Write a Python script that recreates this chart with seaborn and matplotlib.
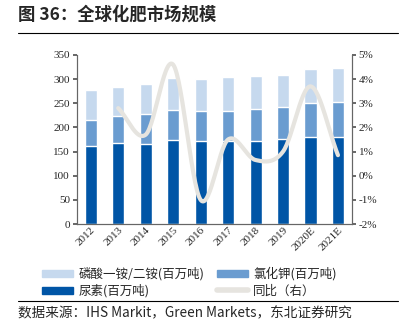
import numpy as np
import pandas as pd
import matplotlib
matplotlib.use("Agg")
import matplotlib.pyplot as plt
import seaborn as sns
from matplotlib.lines import Line2D
from matplotlib.patches import Patch

years = ["2012", "2013", "2014", "2015", "2016", "2017", "2018", "2019", "2020E", "2021E"]
urea = [161, 168, 165, 174, 172, 172, 171, 176, 181, 181]
potash = [54, 56, 63, 63, 62, 63, 68, 66, 69, 72]
phosphate = [62, 60, 62, 66, 66, 69, 67, 67, 71, 70]
yoy_years = ["2013", "2014", "2015", "2016", "2017", "2018", "2019", "2020E", "2021E"]
yoy = [2.8, 1.7, 4.6, -1.0, 1.5, 0.65, 1.0, 3.7, 0.85]

sns.set_theme(style="white")
plt.rcParams['font.family'] = ['Liberation Serif', 'Noto Sans CJK SC', 'DejaVu Sans']

c_light = "#C6D9EE"
c_mid = "#6A9CD0"
c_dark = "#0055A6"
c_line = "#E6E4DF"

df = pd.DataFrame({"year": years, "urea": urea, "potash": potash, "phos": phosphate})
df["top"] = df["urea"] + df["potash"] + df["phos"]
df["mid"] = df["urea"] + df["potash"]

fig = plt.figure(figsize=(4.06, 3.30), dpi=100)
ax = fig.add_axes([77/406, 1-224/330, (351.7-77)/406, (224-55)/330])

bw = 0.44
sns.barplot(data=df, x="year", y="top", color=c_light, width=bw, saturation=1, ax=ax, errorbar=None)
sns.barplot(data=df, x="year", y="mid", color=c_mid, width=bw, saturation=1, ax=ax, errorbar=None)
sns.barplot(data=df, x="year", y="urea", color=c_dark, width=bw, saturation=1, ax=ax, errorbar=None)
ax.set_ylim(0, 350)
ax.set_yticks(range(0, 351, 50))
ax.set_xlim(-0.5, len(years) - 0.5)
ax.set_xlabel("")
ax.set_ylabel("")
ax.tick_params(axis="y", labelsize=8, length=3, color="#555555", direction="out", pad=2, left=True)
ax.tick_params(axis="x", labelsize=8, length=0, pad=1)
for lab in ax.get_xticklabels():
    lab.set_rotation(45)
    lab.set_ha("right")
    lab.set_rotation_mode("anchor")
ax.spines["top"].set_visible(False)
for s in ["left", "bottom", "right"]:
    ax.spines[s].set_color("#666666")
    ax.spines[s].set_linewidth(0.8)

# smoothed line (Catmull-Rom like Excel smoothing)
xpos = np.array([years.index(y) for y in yoy_years], dtype=float)
yv = np.array(yoy, dtype=float)
def catmull(x, y, n=30):
    px = np.concatenate([[2*x[0]-x[1]], x, [2*x[-1]-x[-2]]])
    py = np.concatenate([[2*y[0]-y[1]], y, [2*y[-1]-y[-2]]])
    xs, ys = [], []
    for i in range(1, len(px) - 2):
        t = np.linspace(0, 1, n, endpoint=(i == len(px) - 3))
        for arr, out in ((px, xs), (py, ys)):
            p0, p1, p2, p3 = arr[i-1], arr[i], arr[i+1], arr[i+2]
            out.extend(0.5*((2*p1) + (-p0+p2)*t + (2*p0-5*p1+4*p2-p3)*t**2 + (-p0+3*p1-3*p2+p3)*t**3))
    return np.array(xs), np.array(ys)
sx, sy = catmull(xpos, yv)
ax2 = ax.twinx()
sns.lineplot(x=sx, y=sy, color=c_line, linewidth=3, ax=ax2, sort=False, estimator=None, errorbar=None)
ax2.set_ylim(-2, 5)
ax2.set_yticks(range(-2, 6))
ax2.set_yticklabels([f"{v}%" for v in range(-2, 6)])
ax2.tick_params(axis="y", labelsize=8, length=3, color="#555555", direction="out", pad=2, right=True)
ax2.spines["top"].set_visible(False)
for s in ["left", "bottom", "right"]:
    ax2.spines[s].set_color("#666666")
    ax2.spines[s].set_linewidth(0.8)
ax2.grid(False)
ax.grid(False)

cjk = ['Noto Sans CJK SC', 'DejaVu Sans']
fig.text(18/406, 1-15/330, "图 36：全球化肥市场规模", fontsize=12.5, fontweight="bold", va="center", ha="left", family=cjk)
fig.add_artist(Line2D([18/406, 398/406], [1-33/330, 1-33/330], color="black", linewidth=0.8, transform=fig.transFigure))

# column-wise fill: col1 = 磷酸, 尿素 ; col2 = 氯化钾, 同比
handles = [Patch(color=c_light), Patch(color=c_dark), Patch(color=c_mid),
           Line2D([0], [0], color=c_line, linewidth=4)]
labels = ["磷酸一铵/二铵(百万吨)", "尿素(百万吨)", "氯化钾(百万吨)", "同比（右）"]
fig.legend(handles, labels, ncol=2, loc="center left", bbox_to_anchor=(42/406, 1-282.5/330),
           frameon=False, handlelength=2.5, handleheight=0.55, columnspacing=1.0,
           labelspacing=0.3, handletextpad=0.4, borderaxespad=0, borderpad=0,
           prop={'family': cjk, 'size': 9})
fig.add_artist(Line2D([18/406, 398/406], [1-301/330, 1-301/330], color="black", linewidth=0.8, transform=fig.transFigure))
fig.text(18/406, 1-313/330, "数据来源：IHS Markit，Green Markets，东北证券研究", fontsize=9.8, va="center", ha="left", family=cjk)

fig.savefig("out.png", dpi=100)
